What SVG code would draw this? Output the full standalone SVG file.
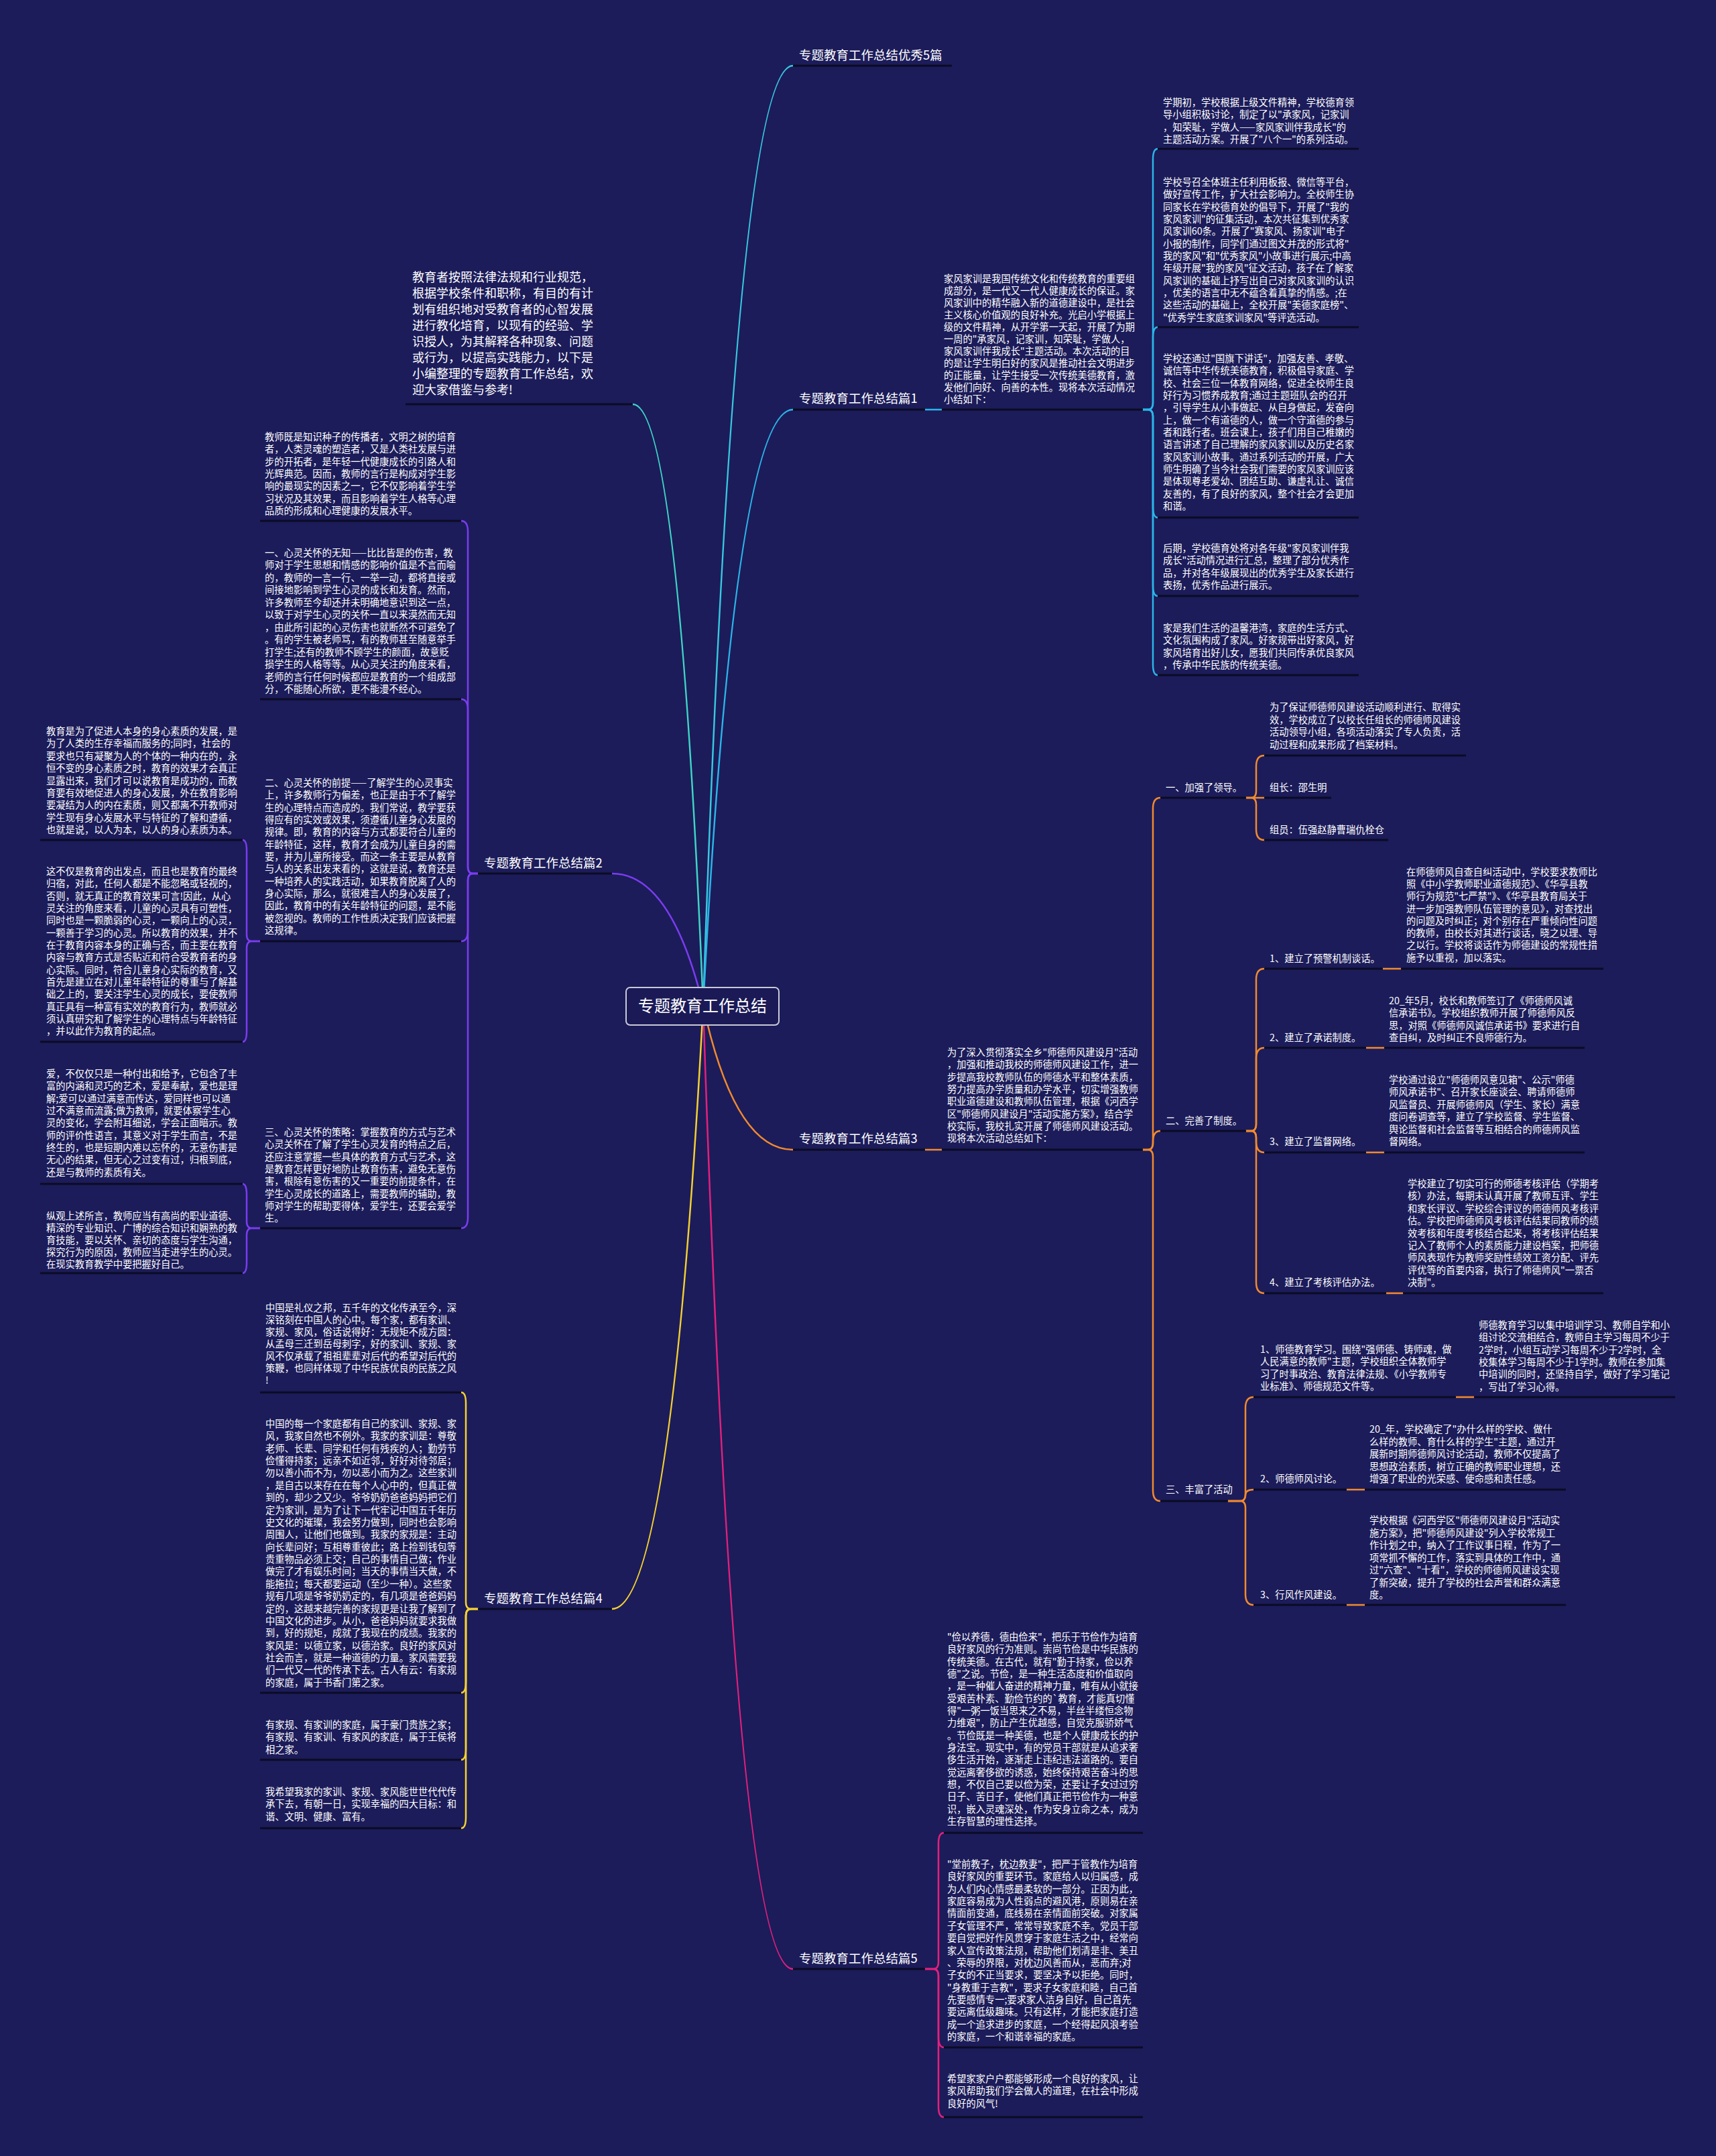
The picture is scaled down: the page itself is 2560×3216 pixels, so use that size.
<svg xmlns="http://www.w3.org/2000/svg" width="2560" height="3216" viewBox="0 0 2560 3216">
<style>
.t{font-family:"Noto Sans CJK SC","Noto Sans",sans-serif;font-size:14.25px;fill:#ffffff}
.i{font-size:18px}
.b{font-size:18.5px}
.m{font-size:24px}
.u{stroke:#0b0b25;stroke-width:3;fill:none}
.c{fill:none;stroke-width:2.5;stroke-linecap:round}
.cy{stroke:#38c9e0}.ct{stroke:#3fd6c6}.cb{stroke:#2bb5e8}.cp{stroke:#7b3cf0}.co{stroke:#f28a2e}.cl{stroke:#f5d130}.cm{stroke:#e4207c}
</style>
<rect x="0" y="0" width="2560" height="3216" fill="#1c1c5a"/>
<g id="connectors">
<path class="c cy" d="M1049,1500 Q1096,98 1183,98"/>
<path class="c ct" d="M1049,1500 Q1012,603 944,603"/>
<path class="c cb" d="M1049,1500 Q1096,611 1183,611"/>
<path class="c cp" d="M1049,1500 Q1001,1303 913,1303"/>
<path class="c co" d="M1049,1500 Q1096,1715 1183,1715"/>
<path class="c cl" d="M1049,1500 Q1001,2400 913,2400"/>
<path class="c cm" d="M1049,1500 Q1096,2937 1183,2937"/>
<!-- 篇1 -->
<path class="c cb" d="M1380,611 L1405,611"/>
<path class="c cb" d="M1705,611 L1712,611 Q1720,611 1720,601 L1720,238 Q1720,222 1727,222"/>
<path class="c cb" d="M1705,611 L1712,611 Q1720,611 1720,601 L1720,504 Q1720,488 1727,488"/>
<path class="c cb" d="M1705,611 L1712,611 Q1720,611 1720,621 L1720,756 Q1720,772 1727,772"/>
<path class="c cb" d="M1705,611 L1712,611 Q1720,611 1720,621 L1720,873 Q1720,889 1727,889"/>
<path class="c cb" d="M1705,611 L1712,611 Q1720,611 1720,621 L1720,991 Q1720,1007 1727,1007"/>
<!-- 篇2 -->
<path class="c cp" d="M713,1303 L706,1303 Q698,1303 698,1293 L698,793 Q698,777 688,777"/>
<path class="c cp" d="M713,1303 L706,1303 Q698,1303 698,1293 L698,1059 Q698,1043 688,1043"/>
<path class="c cp" d="M713,1303 L706,1303 Q698,1303 698,1313 L698,1388 Q698,1404 688,1404"/>
<path class="c cp" d="M713,1303 L706,1303 Q698,1303 698,1313 L698,1816 Q698,1832 688,1832"/>
<path class="c cp" d="M388,1404 L376,1404 Q368,1404 368,1394 L368,1269 Q368,1253 362,1253"/>
<path class="c cp" d="M388,1404 L376,1404 Q368,1404 368,1414 L368,1538 Q368,1554 362,1554"/>
<path class="c cp" d="M388,1832 L376,1832 Q368,1832 368,1822 L368,1782 Q368,1766 362,1766"/>
<path class="c cp" d="M388,1832 L376,1832 Q368,1832 368,1842 L368,1883 Q368,1899 362,1899"/>
<!-- 篇3 -->
<path class="c co" d="M1380,1715 L1405,1715"/>
<path class="c co" d="M1705,1715 L1712,1715 Q1720,1715 1720,1705 L1720,1206 Q1720,1190 1731,1190"/>
<path class="c co" d="M1705,1715 L1712,1715 Q1720,1715 1720,1705 L1720,1703 Q1720,1687 1731,1687"/>
<path class="c co" d="M1705,1715 L1712,1715 Q1720,1715 1720,1725 L1720,2223 Q1720,2239 1731,2239"/>
<path class="c co" d="M1859,1190 L1866,1190 Q1874,1190 1874,1180 L1874,1143 Q1874,1127 1886,1127"/>
<path class="c co" d="M1859,1190 L1886,1190"/>
<path class="c co" d="M1859,1190 L1866,1190 Q1874,1190 1874,1200 L1874,1237 Q1874,1253 1886,1253"/>
<path class="c co" d="M1859,1687 L1866,1687 Q1874,1687 1874,1677 L1874,1461 Q1874,1445 1886,1445"/>
<path class="c co" d="M1859,1687 L1866,1687 Q1874,1687 1874,1677 L1874,1579 Q1874,1563 1886,1563"/>
<path class="c co" d="M1859,1687 L1866,1687 Q1874,1687 1874,1697 L1874,1703 Q1874,1719 1886,1719"/>
<path class="c co" d="M1859,1687 L1866,1687 Q1874,1687 1874,1697 L1874,1913 Q1874,1929 1886,1929"/>
<path class="c co" d="M1832,2239 L1850,2239 Q1858,2239 1858,2229 L1858,2100 Q1858,2084 1870,2084"/>
<path class="c co" d="M1832,2239 L1850,2239 Q1858,2239 1858,2230 Q1858,2222 1870,2222"/>
<path class="c co" d="M1832,2239 L1850,2239 Q1858,2239 1858,2249 L1858,2378 Q1858,2394 1870,2394"/>
<path class="c co" d="M2063,1445 L2090,1445"/>
<path class="c co" d="M2038,1563 L2065,1563"/>
<path class="c co" d="M2038,1719 L2065,1719"/>
<path class="c co" d="M2068,1929 L2093,1929"/>
<path class="c co" d="M2172,2084 L2199,2084"/>
<path class="c co" d="M2009,2222 L2036,2222"/>
<path class="c co" d="M2009,2394 L2036,2394"/>
<!-- 篇4 -->
<path class="c cl" d="M713,2400 L703,2400 Q695,2400 695,2390 L695,2093 Q695,2077 688,2077"/>
<path class="c cl" d="M713,2400 L703,2400 Q695,2400 695,2410 L695,2509 Q695,2525 688,2525"/>
<path class="c cl" d="M713,2400 L703,2400 Q695,2400 695,2410 L695,2609 Q695,2625 688,2625"/>
<path class="c cl" d="M713,2400 L703,2400 Q695,2400 695,2410 L695,2711 Q695,2727 688,2727"/>
<!-- 篇5 -->
<path class="c cm" d="M1380,2937 L1392,2937 Q1400,2937 1400,2927 L1400,2750 Q1400,2734 1408,2734"/>
<path class="c cm" d="M1380,2937 L1392,2937 Q1400,2937 1400,2947 L1400,3038 Q1400,3054 1408,3054"/>
<path class="c cm" d="M1380,2937 L1392,2937 Q1400,2937 1400,2947 L1400,3142 Q1400,3158 1408,3158"/>
</g>

<g id="root">
<rect x="934" y="1473" width="228" height="56" rx="6" fill="#1b1a57" stroke="#c9c9d6" stroke-width="2"/>
<text class="t m" x="1048" y="1509" text-anchor="middle">专题教育工作总结</text>
</g>

<g id="intro">
<text class="t i" x="615" y="420"><tspan x="615" dy="0">教育者按照法律法规和行业规范，</tspan><tspan x="615" dy="23.96">根据学校条件和职称，有目的有计</tspan><tspan x="615" dy="23.96">划有组织地对受教育者的心智发展</tspan><tspan x="615" dy="23.96">进行教化培育，以现有的经验、学</tspan><tspan x="615" dy="23.96">识授人，为其解释各种现象、问题</tspan><tspan x="615" dy="23.96">或行为，以提高实践能力，以下是</tspan><tspan x="615" dy="23.96">小编整理的专题教育工作总结，欢</tspan><tspan x="615" dy="23.96">迎大家借鉴与参考!</tspan></text>
<line class="u" x1="605" y1="603" x2="944" y2="603"/>
</g>

<g id="b0">
<text class="t b" x="1192" y="89">专题教育工作总结优秀5篇</text>
<line class="u" x1="1183" y1="98" x2="1420" y2="98"/>
</g>

<g id="b1">
<text class="t b" x="1192" y="601">专题教育工作总结篇1</text>
<line class="u" x1="1183" y1="611" x2="1380" y2="611"/>
</g>
<g id="b1-intro">
<text class="t" x="1408" y="421"><tspan x="1408" dy="0">家风家训是我国传统文化和传统教育的重要组</tspan><tspan x="1408" dy="18">成部分，是一代又一代人健康成长的保证。家</tspan><tspan x="1408" dy="18">风家训中的精华融入新的道德建设中，是社会</tspan><tspan x="1408" dy="18">主义核心价值观的良好补充。光启小学根据上</tspan><tspan x="1408" dy="18">级的文件精神，从开学第一天起，开展了为期</tspan><tspan x="1408" dy="18">一周的"承家风，记家训，知荣耻，学做人，</tspan><tspan x="1408" dy="18">家风家训伴我成长"主题活动。本次活动的目</tspan><tspan x="1408" dy="18">的是让学生明白好的家风是推动社会文明进步</tspan><tspan x="1408" dy="18">的正能量，让学生接受一次传统美德教育，激</tspan><tspan x="1408" dy="18">发他们向好、向善的本性。现将本次活动情况</tspan><tspan x="1408" dy="18">小结如下：</tspan></text>
<line class="u" x1="1405" y1="611" x2="1705" y2="611"/>
</g>
<g id="b1-1">
<text class="t" x="1735" y="158"><tspan x="1735" dy="0">学期初，学校根据上级文件精神，学校德育领</tspan><tspan x="1735" dy="18.33">导小组积极讨论，制定了以"承家风，记家训</tspan><tspan x="1735" dy="18.33">，知荣耻，学做人——家风家训伴我成长"的</tspan><tspan x="1735" dy="18.33">主题活动方案。开展了"八个一"的系列活动。</tspan></text>
<line class="u" x1="1727" y1="222" x2="2027" y2="222"/>
</g>
<g id="b1-2">
<text class="t" x="1735" y="277"><tspan x="1735" dy="0">学校号召全体班主任利用板报、微信等平台，</tspan><tspan x="1735" dy="18.33">做好宣传工作，扩大社会影响力。全校师生协</tspan><tspan x="1735" dy="18.33">同家长在学校德育处的倡导下，开展了"我的</tspan><tspan x="1735" dy="18.33">家风家训"的征集活动，本次共征集到优秀家</tspan><tspan x="1735" dy="18.33">风家训60条。开展了"赛家风、扬家训"电子</tspan><tspan x="1735" dy="18.33">小报的制作，同学们通过图文并茂的形式将"</tspan><tspan x="1735" dy="18.33">我的家风"和"优秀家风"小故事进行展示;中高</tspan><tspan x="1735" dy="18.33">年级开展"我的家风"征文活动，孩子在了解家</tspan><tspan x="1735" dy="18.33">风家训的基础上抒写出自己对家风家训的认识</tspan><tspan x="1735" dy="18.33">，优美的语言中无不蕴含着真挚的情感。;在</tspan><tspan x="1735" dy="18.33">这些活动的基础上，全校开展"美德家庭榜"、</tspan><tspan x="1735" dy="18.33">"优秀学生家庭家训家风"等评选活动。</tspan></text>
<line class="u" x1="1727" y1="488" x2="2027" y2="488"/>
</g>
<g id="b1-3">
<text class="t" x="1735" y="540"><tspan x="1735" dy="0">学校还通过"国旗下讲话"，加强友善、孝敬、</tspan><tspan x="1735" dy="18.33">诚信等中华传统美德教育，积极倡导家庭、学</tspan><tspan x="1735" dy="18.33">校、社会三位一体教育网络，促进全校师生良</tspan><tspan x="1735" dy="18.33">好行为习惯养成教育;通过主题班队会的召开</tspan><tspan x="1735" dy="18.33">，引导学生从小事做起、从自身做起，发奋向</tspan><tspan x="1735" dy="18.33">上，做一个有道德的人，做一个守道德的参与</tspan><tspan x="1735" dy="18.33">者和践行者。班会课上，孩子们用自己稚嫩的</tspan><tspan x="1735" dy="18.33">语言讲述了自己理解的家风家训以及历史名家</tspan><tspan x="1735" dy="18.33">家风家训小故事。通过系列活动的开展，广大</tspan><tspan x="1735" dy="18.33">师生明确了当今社会我们需要的家风家训应该</tspan><tspan x="1735" dy="18.33">是体现尊老爱幼、团结互助、谦虚礼让、诚信</tspan><tspan x="1735" dy="18.33">友善的，有了良好的家风，整个社会才会更加</tspan><tspan x="1735" dy="18.33">和谐。</tspan></text>
<line class="u" x1="1727" y1="772" x2="2027" y2="772"/>
</g>
<g id="b1-4">
<text class="t" x="1735" y="823"><tspan x="1735" dy="0">后期，学校德育处将对各年级"家风家训伴我</tspan><tspan x="1735" dy="18.33">成长"活动情况进行汇总，整理了部分优秀作</tspan><tspan x="1735" dy="18.33">品，并对各年级展现出的优秀学生及家长进行</tspan><tspan x="1735" dy="18.33">表扬，优秀作品进行展示。</tspan></text>
<line class="u" x1="1727" y1="889" x2="2027" y2="889"/>
</g>
<g id="b1-5">
<text class="t" x="1735" y="942"><tspan x="1735" dy="0">家是我们生活的温馨港湾，家庭的生活方式、</tspan><tspan x="1735" dy="18.33">文化氛围构成了家风。好家规带出好家风，好</tspan><tspan x="1735" dy="18.33">家风培育出好儿女，愿我们共同传承优良家风</tspan><tspan x="1735" dy="18.33">，传承中华民族的传统美德。</tspan></text>
<line class="u" x1="1727" y1="1007" x2="2027" y2="1007"/>
</g>

<g id="b2">
<text class="t b" x="722" y="1294">专题教育工作总结篇2</text>
<line class="u" x1="713" y1="1303" x2="913" y2="1303"/>
</g>
<g id="b2-1">
<text class="t" x="395" y="657"><tspan x="395" dy="0">教师既是知识种子的传播者，文明之树的培育</tspan><tspan x="395" dy="18.33">者，人类灵魂的塑造者，又是人类社发展与进</tspan><tspan x="395" dy="18.33">步的开拓者，是年轻一代健康成长的引路人和</tspan><tspan x="395" dy="18.33">光辉典范。因而，教师的言行是构成对学生影</tspan><tspan x="395" dy="18.33">响的最现实的因素之一，它不仅影响着学生学</tspan><tspan x="395" dy="18.33">习状况及其效果，而且影响着学生人格等心理</tspan><tspan x="395" dy="18.33">品质的形成和心理健康的发展水平。</tspan></text>
<line class="u" x1="388" y1="777" x2="688" y2="777"/>
</g>
<g id="b2-2">
<text class="t" x="395" y="830"><tspan x="395" dy="0">一、心灵关怀的无知——比比皆是的伤害，教</tspan><tspan x="395" dy="18.48">师对于学生思想和情感的影响价值是不言而喻</tspan><tspan x="395" dy="18.48">的，教师的一言一行、一举一动，都将直接或</tspan><tspan x="395" dy="18.48">间接地影响到学生心灵的成长和发育。然而，</tspan><tspan x="395" dy="18.48">许多教师至今却还并未明确地意识到这一点，</tspan><tspan x="395" dy="18.48">以致于对学生心灵的关怀一直以来漠然而无知</tspan><tspan x="395" dy="18.48">，由此所引起的心灵伤害也就断然不可避免了</tspan><tspan x="395" dy="18.48">。有的学生被老师骂，有的教师甚至随意举手</tspan><tspan x="395" dy="18.48">打学生;还有的教师不顾学生的颜面，故意贬</tspan><tspan x="395" dy="18.48">损学生的人格等等。从心灵关注的角度来看，</tspan><tspan x="395" dy="18.48">老师的言行任何时候都应是教育的一个组成部</tspan><tspan x="395" dy="18.48">分，不能随心所欲，更不能漫不经心。</tspan></text>
<line class="u" x1="388" y1="1043" x2="688" y2="1043"/>
</g>
<g id="b2-3">
<text class="t" x="395" y="1173"><tspan x="395" dy="0">二、心灵关怀的前提——了解学生的心灵事实</tspan><tspan x="395" dy="18.32">上，许多教师行为偏差，也正是由于不了解学</tspan><tspan x="395" dy="18.32">生的心理特点而造成的。我们常说，教学要获</tspan><tspan x="395" dy="18.32">得应有的实效或效果，须遵循儿童身心发展的</tspan><tspan x="395" dy="18.32">规律。即，教育的内容与方式都要符合儿童的</tspan><tspan x="395" dy="18.32">年龄特征，这样，教育才会成为儿童自身的需</tspan><tspan x="395" dy="18.32">要，并为儿童所接受。而这一条主要是从教育</tspan><tspan x="395" dy="18.32">与人的关系出发来看的，这就是说，教育还是</tspan><tspan x="395" dy="18.32">一种培养人的实践活动，如果教育脱离了人的</tspan><tspan x="395" dy="18.32">身心实际，那么，就很难言人的身心发展了，</tspan><tspan x="395" dy="18.32">因此，教育中的有关年龄特征的问题，是不能</tspan><tspan x="395" dy="18.32">被忽视的。教师的工作性质决定我们应该把握</tspan><tspan x="395" dy="18.32">这规律。</tspan></text>
<line class="u" x1="388" y1="1404" x2="688" y2="1404"/>
</g>
<g id="b2-4">
<text class="t" x="395" y="1694"><tspan x="395" dy="0">三、心灵关怀的策略：掌握教育的方式与艺术</tspan><tspan x="395" dy="18.3">心灵关怀在了解了学生心灵发育的特点之后，</tspan><tspan x="395" dy="18.3">还应注意掌握一些具体的教育方式与艺术，这</tspan><tspan x="395" dy="18.3">是教育怎样更好地防止教育伤害，避免无意伤</tspan><tspan x="395" dy="18.3">害，根除有意伤害的又一重要的前提条件，在</tspan><tspan x="395" dy="18.3">学生心灵成长的道路上，需要教师的辅助，教</tspan><tspan x="395" dy="18.3">师对学生的帮助要得体，爱学生，还要会爱学</tspan><tspan x="395" dy="18.3">生。</tspan></text>
<line class="u" x1="388" y1="1832" x2="688" y2="1832"/>
</g>
<g id="b2-3-1">
<text class="t" x="69" y="1096"><tspan x="69" dy="0">教育是为了促进人本身的身心素质的发展，是</tspan><tspan x="69" dy="18.4">为了人类的生存幸福而服务的;同时，社会的</tspan><tspan x="69" dy="18.4">要求也只有凝聚为人的个体的一种内在的，永</tspan><tspan x="69" dy="18.4">恒不变的身心素质之时，教育的效果才会真正</tspan><tspan x="69" dy="18.4">显露出来，我们才可以说教育是成功的，而教</tspan><tspan x="69" dy="18.4">育要有效地促进人的身心发展，外在教育影响</tspan><tspan x="69" dy="18.4">要凝结为人的内在素质，则又都离不开教师对</tspan><tspan x="69" dy="18.4">学生现有身心发展水平与特征的了解和遵循，</tspan><tspan x="69" dy="18.4">也就是说，以人为本，以人的身心素质为本。</tspan></text>
<line class="u" x1="60" y1="1253" x2="362" y2="1253"/>
</g>
<g id="b2-3-2">
<text class="t" x="69" y="1305"><tspan x="69" dy="0">这不仅是教育的出发点，而且也是教育的最终</tspan><tspan x="69" dy="18.32">归宿，对此，任何人都是不能忽略或轻视的，</tspan><tspan x="69" dy="18.32">否则，就无真正的教育效果可言!因此，从心</tspan><tspan x="69" dy="18.32">灵关注的角度来看，儿童的心灵具有可塑性，</tspan><tspan x="69" dy="18.32">同时也是一颗脆弱的心灵，一颗向上的心灵，</tspan><tspan x="69" dy="18.32">一颗善于学习的心灵。所以教育的效果，并不</tspan><tspan x="69" dy="18.32">在于教育内容本身的正确与否，而主要在教育</tspan><tspan x="69" dy="18.32">内容与教育方式是否贴近和符合受教育者的身</tspan><tspan x="69" dy="18.32">心实际。同时，符合儿童身心实际的教育，又</tspan><tspan x="69" dy="18.32">首先是建立在对儿童年龄特征的尊重与了解基</tspan><tspan x="69" dy="18.32">础之上的，要关注学生心灵的成长，要使教师</tspan><tspan x="69" dy="18.32">真正具有一种富有实效的教育行为，教师就必</tspan><tspan x="69" dy="18.32">须认真研究和了解学生的心理特点与年龄特征</tspan><tspan x="69" dy="18.32">，并以此作为教育的起点。</tspan></text>
<line class="u" x1="60" y1="1554" x2="362" y2="1554"/>
</g>
<g id="b2-4-1">
<text class="t" x="69" y="1607"><tspan x="69" dy="0">爱，不仅仅只是一种付出和给予，它包含了丰</tspan><tspan x="69" dy="18.33">富的内涵和灵巧的艺术，爱是奉献，爱也是理</tspan><tspan x="69" dy="18.33">解;爱可以通过满意而传达，爱同样也可以通</tspan><tspan x="69" dy="18.33">过不满意而流露;做为教师，就要体察学生心</tspan><tspan x="69" dy="18.33">灵的变化，学会附耳细说，学会正面暗示。教</tspan><tspan x="69" dy="18.33">师的评价性语言，其意义对于学生而言，不是</tspan><tspan x="69" dy="18.33">终生的，也是短期内难以忘怀的，无意伤害是</tspan><tspan x="69" dy="18.33">无心的结果，但无心之过变有过，归根到底，</tspan><tspan x="69" dy="18.33">还是与教师的素质有关。</tspan></text>
<line class="u" x1="60" y1="1766" x2="362" y2="1766"/>
</g>
<g id="b2-4-2">
<text class="t" x="69" y="1819"><tspan x="69" dy="0">纵观上述所言，教师应当有高尚的职业道德、</tspan><tspan x="69" dy="17.9">精深的专业知识、广博的综合知识和娴熟的教</tspan><tspan x="69" dy="17.9">育技能，要以关怀、亲切的态度与学生沟通，</tspan><tspan x="69" dy="17.9">探究行为的原因，教师应当走进学生的心灵。</tspan><tspan x="69" dy="17.9">在现实教育教学中要把握好自己。</tspan></text>
<line class="u" x1="60" y1="1899" x2="362" y2="1899"/>
</g>

<g id="b3">
<text class="t b" x="1192" y="1705">专题教育工作总结篇3</text>
<line class="u" x1="1183" y1="1715" x2="1380" y2="1715"/>
</g>
<g id="b3-intro">
<text class="t" x="1413" y="1575"><tspan x="1413" dy="0">为了深入贯彻落实全乡"师德师风建设月"活动</tspan><tspan x="1413" dy="18.3">，加强和推动我校的师德师风建设工作，进一</tspan><tspan x="1413" dy="18.3">步提高我校教师队伍的师德水平和整体素质，</tspan><tspan x="1413" dy="18.3">努力提高办学质量和办学水平，切实增强教师</tspan><tspan x="1413" dy="18.3">职业道德建设和教师队伍管理，根据《河西学</tspan><tspan x="1413" dy="18.3">区"师德师风建设月"活动实施方案》，结合学</tspan><tspan x="1413" dy="18.3">校实际，我校扎实开展了师德师风建设活动。</tspan><tspan x="1413" dy="18.3">现将本次活动总结如下：</tspan></text>
<line class="u" x1="1405" y1="1715" x2="1705" y2="1715"/>
</g>
<g id="b3-1">
<text class="t" x="1739" y="1180">一、加强了领导。</text>
<line class="u" x1="1731" y1="1190" x2="1859" y2="1190"/>
</g>
<g id="b3-1-1">
<text class="t" x="1894" y="1060"><tspan x="1894" dy="0">为了保证师德师风建设活动顺利进行、取得实</tspan><tspan x="1894" dy="18.5">效，学校成立了以校长任组长的师德师风建设</tspan><tspan x="1894" dy="18.5">活动领导小组，各项活动落实了专人负责，活</tspan><tspan x="1894" dy="18.5">动过程和成果形成了档案材料。</tspan></text>
<line class="u" x1="1886" y1="1127" x2="2187" y2="1127"/>
</g>
<g id="b3-1-2">
<text class="t" x="1894" y="1180">组长：邵生明</text>
<line class="u" x1="1886" y1="1190" x2="1986" y2="1190"/>
</g>
<g id="b3-1-3">
<text class="t" x="1894" y="1243">组员：伍强赵静曹瑞仇栓仓</text>
<line class="u" x1="1886" y1="1253" x2="2071" y2="1253"/>
</g>
<g id="b3-2">
<text class="t" x="1739" y="1677">二、完善了制度。</text>
<line class="u" x1="1731" y1="1687" x2="1859" y2="1687"/>
</g>
<g id="b3-2-1">
<text class="t" x="1894" y="1435">1、建立了预警机制谈话。</text>
<line class="u" x1="1886" y1="1445" x2="2063" y2="1445"/>
</g>
<g id="b3-2-1-1">
<text class="t" x="2098" y="1306"><tspan x="2098" dy="0">在师德师风自查自纠活动中，学校要求教师比</tspan><tspan x="2098" dy="18.23">照《中小学教师职业道德规范》、《华亭县教</tspan><tspan x="2098" dy="18.23">师行为规范"七严禁"》、《华亭县教育局关于</tspan><tspan x="2098" dy="18.23">进一步加强教师队伍管理的意见》，对查找出</tspan><tspan x="2098" dy="18.23">的问题及时纠正；对个别存在严重倾向性问题</tspan><tspan x="2098" dy="18.23">的教师，由校长对其进行谈话，晓之以理、导</tspan><tspan x="2098" dy="18.23">之以行。学校将谈话作为师德建设的常规性措</tspan><tspan x="2098" dy="18.23">施予以重视，加以落实。</tspan></text>
<line class="u" x1="2090" y1="1445" x2="2392" y2="1445"/>
</g>
<g id="b3-2-2">
<text class="t" x="1894" y="1553">2、建立了承诺制度。</text>
<line class="u" x1="1886" y1="1563" x2="2038" y2="1563"/>
</g>
<g id="b3-2-2-1">
<text class="t" x="2072" y="1498"><tspan x="2072" dy="0">20_年5月，校长和教师签订了《师德师风诚</tspan><tspan x="2072" dy="18.33">信承诺书》。学校组织教师开展了师德师风反</tspan><tspan x="2072" dy="18.33">思，对照《师德师风诚信承诺书》要求进行自</tspan><tspan x="2072" dy="18.33">查自纠，及时纠正不良师德行为。</tspan></text>
<line class="u" x1="2065" y1="1563" x2="2364" y2="1563"/>
</g>
<g id="b3-2-3">
<text class="t" x="1894" y="1708">3、建立了监督网络。</text>
<line class="u" x1="1886" y1="1719" x2="2038" y2="1719"/>
</g>
<g id="b3-2-3-1">
<text class="t" x="2072" y="1616"><tspan x="2072" dy="0">学校通过设立"师德师风意见箱"、公示"师德</tspan><tspan x="2072" dy="18.4">师风承诺书"、召开家长座谈会、聘请师德师</tspan><tspan x="2072" dy="18.4">风监督员、开展师德师风（学生、家长）满意</tspan><tspan x="2072" dy="18.4">度问卷调查等，建立了学校监督、学生监督、</tspan><tspan x="2072" dy="18.4">舆论监督和社会监督等互相结合的师德师风监</tspan><tspan x="2072" dy="18.4">督网络。</tspan></text>
<line class="u" x1="2065" y1="1719" x2="2364" y2="1719"/>
</g>
<g id="b3-2-4">
<text class="t" x="1894" y="1918">4、建立了考核评估办法。</text>
<line class="u" x1="1886" y1="1929" x2="2068" y2="1929"/>
</g>
<g id="b3-2-4-1">
<text class="t" x="2100" y="1771"><tspan x="2100" dy="0">学校建立了切实可行的师德考核评估（学期考</tspan><tspan x="2100" dy="18.4">核）办法，每期末认真开展了教师互评、学生</tspan><tspan x="2100" dy="18.4">和家长评议、学校综合评议的师德师风考核评</tspan><tspan x="2100" dy="18.4">估。学校把师德师风考核评估结果同教师的绩</tspan><tspan x="2100" dy="18.4">效考核和年度考核结合起来，将考核评估结果</tspan><tspan x="2100" dy="18.4">记入了教师个人的素质能力建设档案，把师德</tspan><tspan x="2100" dy="18.4">师风表现作为教师奖励性绩效工资分配、评先</tspan><tspan x="2100" dy="18.4">评优等的首要内容，执行了师德师风"一票否</tspan><tspan x="2100" dy="18.4">决制"。</tspan></text>
<line class="u" x1="2093" y1="1929" x2="2392" y2="1929"/>
</g>
<g id="b3-3">
<text class="t" x="1739" y="2227">三、丰富了活动</text>
<line class="u" x1="1731" y1="2239" x2="1832" y2="2239"/>
</g>
<g id="b3-3-1">
<text class="t" x="1880" y="2018"><tspan x="1880" dy="0">1、师德教育学习。围绕"强师德、铸师魂，做</tspan><tspan x="1880" dy="18.4">人民满意的教师"主题，学校组织全体教师学</tspan><tspan x="1880" dy="18.4">习了时事政治、教育法律法规、《小学教师专</tspan><tspan x="1880" dy="18.4">业标准》、师德规范文件等。</tspan></text>
<line class="u" x1="1870" y1="2084" x2="2172" y2="2084"/>
</g>
<g id="b3-3-1-1">
<text class="t" x="2206" y="1982"><tspan x="2206" dy="0">师德教育学习以集中培训学习、教师自学和小</tspan><tspan x="2206" dy="18.33">组讨论交流相结合，教师自主学习每周不少于</tspan><tspan x="2206" dy="18.33">2学时，小组互动学习每周不少于2学时，全</tspan><tspan x="2206" dy="18.33">校集体学习每周不少于1学时。教师在参加集</tspan><tspan x="2206" dy="18.33">中培训的同时，还坚持自学，做好了学习笔记</tspan><tspan x="2206" dy="18.33">，写出了学习心得。</tspan></text>
<line class="u" x1="2199" y1="2084" x2="2499" y2="2084"/>
</g>
<g id="b3-3-2">
<text class="t" x="1880" y="2211">2、师德师风讨论。</text>
<line class="u" x1="1870" y1="2222" x2="2009" y2="2222"/>
</g>
<g id="b3-3-2-1">
<text class="t" x="2043" y="2137"><tspan x="2043" dy="0">20_年，学校确定了"办什么样的学校、做什</tspan><tspan x="2043" dy="18.5">么样的教师、育什么样的学生"主题，通过开</tspan><tspan x="2043" dy="18.5">展新时期师德师风讨论活动，教师不仅提高了</tspan><tspan x="2043" dy="18.5">思想政治素质，树立正确的教师职业理想，还</tspan><tspan x="2043" dy="18.5">增强了职业的光荣感、使命感和责任感。</tspan></text>
<line class="u" x1="2036" y1="2222" x2="2336" y2="2222"/>
</g>
<g id="b3-3-3">
<text class="t" x="1880" y="2384">3、行风作风建设。</text>
<line class="u" x1="1870" y1="2394" x2="2009" y2="2394"/>
</g>
<g id="b3-3-3-1">
<text class="t" x="2043" y="2273"><tspan x="2043" dy="0">学校根据《河西学区"师德师风建设月"活动实</tspan><tspan x="2043" dy="18.5">施方案》，把"师德师风建设"列入学校常规工</tspan><tspan x="2043" dy="18.5">作计划之中，纳入了工作议事日程，作为了一</tspan><tspan x="2043" dy="18.5">项常抓不懈的工作，落实到具体的工作中，通</tspan><tspan x="2043" dy="18.5">过"六查"、"十看"，学校的师德师风建设实现</tspan><tspan x="2043" dy="18.5">了新突破，提升了学校的社会声誉和群众满意</tspan><tspan x="2043" dy="18.5">度。</tspan></text>
<line class="u" x1="2036" y1="2394" x2="2336" y2="2394"/>
</g>

<g id="b4">
<text class="t b" x="722" y="2391">专题教育工作总结篇4</text>
<line class="u" x1="713" y1="2400" x2="913" y2="2400"/>
</g>
<g id="b4-1">
<text class="t" x="396" y="1956"><tspan x="396" dy="0">中国是礼仪之邦，五千年的文化传承至今，深</tspan><tspan x="396" dy="18.05">深铭刻在中国人的心中。每个家，都有家训、</tspan><tspan x="396" dy="18.05">家规、家风，俗话说得好：无规矩不成方圆：</tspan><tspan x="396" dy="18.05">从孟母三迁到岳母刺字，好的家训、家规、家</tspan><tspan x="396" dy="18.05">风不仅承载了祖祖辈辈对后代的希望对后代的</tspan><tspan x="396" dy="18.05">策鞭，也同样体现了中华民族优良的民族之风</tspan><tspan x="396" dy="18.05">!</tspan></text>
<line class="u" x1="388" y1="2077" x2="688" y2="2077"/>
</g>
<g id="b4-2">
<text class="t" x="396" y="2129"><tspan x="396" dy="0">中国的每一个家庭都有自己的家训、家规、家</tspan><tspan x="396" dy="18.37">风，我家自然也不例外。我家的家训是：尊敬</tspan><tspan x="396" dy="18.37">老师、长辈、同学和任何有残疾的人；勤劳节</tspan><tspan x="396" dy="18.37">俭懂得持家；远亲不如近邻，好好对待邻居；</tspan><tspan x="396" dy="18.37">勿以善小而不为，勿以恶小而为之。这些家训</tspan><tspan x="396" dy="18.37">，是自古以来存在在每个人心中的，但真正做</tspan><tspan x="396" dy="18.37">到的，却少之又少。爷爷奶奶爸爸妈妈把它们</tspan><tspan x="396" dy="18.37">定为家训，是为了让下一代牢记中国五千年历</tspan><tspan x="396" dy="18.37">史文化的璀璨，我会努力做到，同时也会影响</tspan><tspan x="396" dy="18.37">周围人，让他们也做到。我家的家规是：主动</tspan><tspan x="396" dy="18.37">向长辈问好；互相尊重彼此；路上捡到钱包等</tspan><tspan x="396" dy="18.37">贵重物品必须上交；自己的事情自己做；作业</tspan><tspan x="396" dy="18.37">做完了才有娱乐时间；当天的事情当天做，不</tspan><tspan x="396" dy="18.37">能拖拉；每天都要运动（至少一种）。这些家</tspan><tspan x="396" dy="18.37">规有几项是爷爷奶奶定的，有几项是爸爸妈妈</tspan><tspan x="396" dy="18.37">定的，这越来越完善的家规更是让我了解到了</tspan><tspan x="396" dy="18.37">中国文化的进步。从小，爸爸妈妈就要求我做</tspan><tspan x="396" dy="18.37">到，好的规矩，成就了我现在的成绩。我家的</tspan><tspan x="396" dy="18.37">家风是：以德立家，以德治家。良好的家风对</tspan><tspan x="396" dy="18.37">社会而言，就是一种道德的力量。家风需要我</tspan><tspan x="396" dy="18.37">们一代又一代的传承下去。古人有云：有家规</tspan><tspan x="396" dy="18.37">的家庭，属于书香门第之家。</tspan></text>
<line class="u" x1="388" y1="2525" x2="688" y2="2525"/>
</g>
<g id="b4-3">
<text class="t" x="396" y="2578"><tspan x="396" dy="0">有家规、有家训的家庭，属于豪门贵族之家；</tspan><tspan x="396" dy="18.3">有家规、有家训、有家风的家庭，属于王侯将</tspan><tspan x="396" dy="18.3">相之家。</tspan></text>
<line class="u" x1="388" y1="2625" x2="688" y2="2625"/>
</g>
<g id="b4-4">
<text class="t" x="396" y="2678"><tspan x="396" dy="0">我希望我家的家训、家规、家风能世世代代传</tspan><tspan x="396" dy="18.3">承下去，有朝一日，实现幸福的四大目标：和</tspan><tspan x="396" dy="18.3">谐、文明、健康、富有。</tspan></text>
<line class="u" x1="388" y1="2727" x2="688" y2="2727"/>
</g>

<g id="b5">
<text class="t b" x="1192" y="2928">专题教育工作总结篇5</text>
<line class="u" x1="1183" y1="2937" x2="1380" y2="2937"/>
</g>
<g id="b5-1">
<text class="t" x="1413" y="2447"><tspan x="1413" dy="0">"俭以养德，德由俭来"，把乐于节俭作为培育</tspan><tspan x="1413" dy="18.33">良好家风的行为准则。崇尚节俭是中华民族的</tspan><tspan x="1413" dy="18.33">传统美德。在古代，就有"勤于持家，俭以养</tspan><tspan x="1413" dy="18.33">德"之说。节俭，是一种生活态度和价值取向</tspan><tspan x="1413" dy="18.33">，是一种催人奋进的精神力量，唯有从小就接</tspan><tspan x="1413" dy="18.33">受艰苦朴素、勤俭节约的`教育，才能真切懂</tspan><tspan x="1413" dy="18.33">得"一粥一饭当思来之不易，半丝半缕恒念物</tspan><tspan x="1413" dy="18.33">力维艰"，防止产生优越感，自觉克服骄娇气</tspan><tspan x="1413" dy="18.33">。节俭既是一种美德，也是个人健康成长的护</tspan><tspan x="1413" dy="18.33">身法宝。现实中，有的党员干部就是从追求奢</tspan><tspan x="1413" dy="18.33">侈生活开始，逐渐走上违纪违法道路的。要自</tspan><tspan x="1413" dy="18.33">觉远离奢侈欲的诱惑，始终保持艰苦奋斗的思</tspan><tspan x="1413" dy="18.33">想，不仅自己要以俭为荣，还要让子女过过穷</tspan><tspan x="1413" dy="18.33">日子、苦日子，使他们真正把节俭作为一种意</tspan><tspan x="1413" dy="18.33">识，嵌入灵魂深处，作为安身立命之本，成为</tspan><tspan x="1413" dy="18.33">生存智慧的理性选择。</tspan></text>
<line class="u" x1="1408" y1="2734" x2="1705" y2="2734"/>
</g>
<g id="b5-2">
<text class="t" x="1413" y="2786"><tspan x="1413" dy="0">"堂前教子，枕边教妻"，把严于管教作为培育</tspan><tspan x="1413" dy="18.36">良好家风的重要环节。家庭给人以归属感，成</tspan><tspan x="1413" dy="18.36">为人们内心情感最柔软的一部分。正因为此，</tspan><tspan x="1413" dy="18.36">家庭容易成为人性弱点的避风港，原则易在亲</tspan><tspan x="1413" dy="18.36">情面前变通，底线易在亲情面前突破。对家属</tspan><tspan x="1413" dy="18.36">子女管理不严，常常导致家庭不幸。党员干部</tspan><tspan x="1413" dy="18.36">要自觉把好作风贯穿于家庭生活之中，经常向</tspan><tspan x="1413" dy="18.36">家人宣传政策法规，帮助他们划清是非、美丑</tspan><tspan x="1413" dy="18.36">、荣辱的界限，对枕边风善而从，恶而弃;对</tspan><tspan x="1413" dy="18.36">子女的不正当要求，要坚决予以拒绝。同时，</tspan><tspan x="1413" dy="18.36">"身教重于言教"，要求子女家庭和睦，自己首</tspan><tspan x="1413" dy="18.36">先要感情专一;要求家人洁身自好，自己首先</tspan><tspan x="1413" dy="18.36">要远离低级趣味。只有这样，才能把家庭打造</tspan><tspan x="1413" dy="18.36">成一个追求进步的家庭，一个经得起风浪考验</tspan><tspan x="1413" dy="18.36">的家庭，一个和谐幸福的家庭。</tspan></text>
<line class="u" x1="1408" y1="3054" x2="1705" y2="3054"/>
</g>
<g id="b5-3">
<text class="t" x="1413" y="3106"><tspan x="1413" dy="0">希望家家户户都能够形成一个良好的家风，让</tspan><tspan x="1413" dy="18.35">家风帮助我们学会做人的道理，在社会中形成</tspan><tspan x="1413" dy="18.35">良好的风气!</tspan></text>
<line class="u" x1="1408" y1="3158" x2="1705" y2="3158"/>
</g>
</svg>
